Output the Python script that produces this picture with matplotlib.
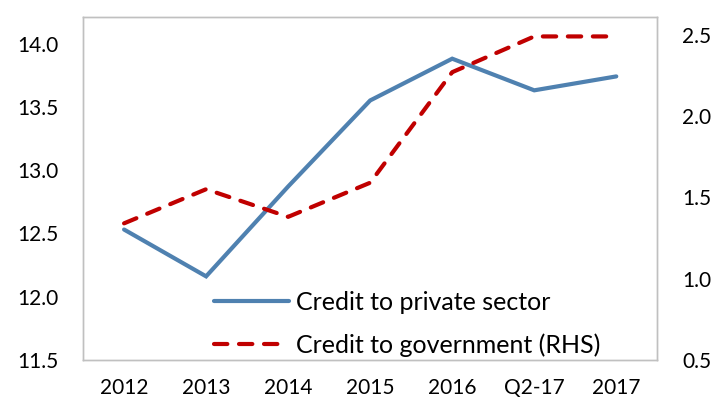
import matplotlib
matplotlib.use("Agg")
import matplotlib.pyplot as plt

# data
periods = ["2012", "2013", "2014", "2015", "2016", "Q2-17", "2017"]
private_credit = [12.53, 12.16, 12.87, 13.55, 13.88, 13.63, 13.74]
govt_credit = [1.34, 1.55, 1.38, 1.59, 2.27, 2.49, 2.49]

plt.rcParams["font.family"] = ["Lato", "DejaVu Sans"]

fig = plt.figure(figsize=(7.16, 4.03), dpi=100)
ax = fig.add_axes([0.116, 0.107, 0.802, 0.851])
ax2 = ax.twinx()

x = range(len(periods))
l1, = ax.plot(x, private_credit, color="#4f81b0", lw=3.0,
              solid_capstyle="round", solid_joinstyle="miter",
              label="Credit to private sector")
l2, = ax2.plot(x, govt_credit, color="#c00000", lw=3.0,
               dashes=(3.2, 2.8), dash_capstyle="round",
               label="Credit to government (RHS)")

ax.set_xlim(-0.5, len(periods) - 0.5)
ax.set_ylim(11.5, 14.21)
ax2.set_ylim(0.5, 2.61)
ax.set_yticks([11.5, 12.0, 12.5, 13.0, 13.5, 14.0])
ax2.set_yticks([0.5, 1.0, 1.5, 2.0, 2.5])
ax.set_xticks(list(x))
ax.set_xticklabels(periods)

for a in (ax, ax2):
    a.tick_params(length=0, labelsize=15, colors="black")
    for s in a.spines.values():
        s.set_color("#c0c0c0")
        s.set_linewidth(1.0)
ax.tick_params(axis="y", pad=18)
ax.tick_params(axis="x", pad=13)
ax2.tick_params(axis="y", pad=18)
ax.yaxis.set_major_formatter(matplotlib.ticker.FormatStrFormatter("%.1f"))
ax2.yaxis.set_major_formatter(matplotlib.ticker.FormatStrFormatter("%.1f"))

ax2.legend([l1, l2], [l1.get_label(), l2.get_label()], loc="lower left",
           bbox_to_anchor=(0.188, -0.056), frameon=False, fontsize=18,
           handlelength=3.0, handletextpad=0.3, labelspacing=0.75)

fig.savefig("out.png", dpi=100)
